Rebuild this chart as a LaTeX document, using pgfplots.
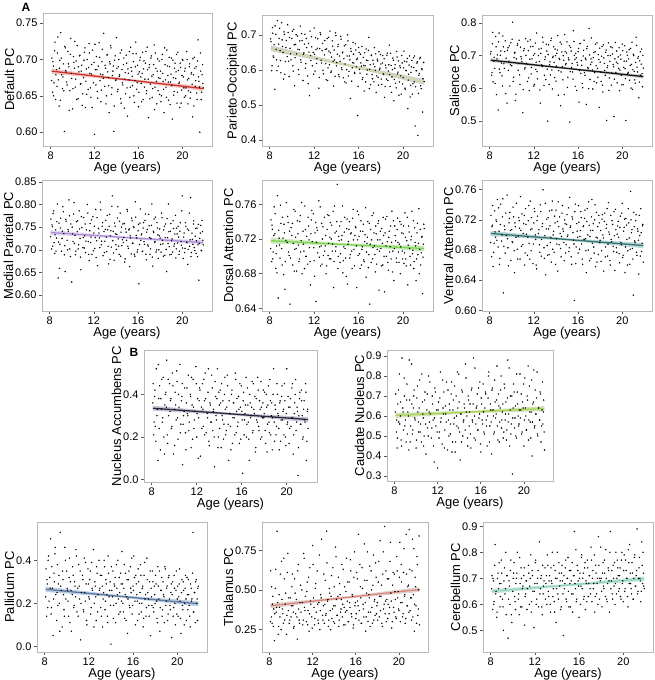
\documentclass[border=0pt]{standalone}
\usepackage{fontspec}
\setmainfont{Liberation Sans}
\usepackage{pgfplots}
\pgfplotsset{compat=1.18}
\usepackage{pgfplotstable}

\definecolor{l1}{RGB}{205,48,38}   \definecolor{b1}{RGB}{242,190,190}
\definecolor{l2}{RGB}{212,214,165} \definecolor{b2}{RGB}{200,202,190}
\definecolor{l3}{RGB}{20,20,20}    \definecolor{b3}{RGB}{200,200,200}
\definecolor{l4}{RGB}{178,142,218} \definecolor{b4}{RGB}{218,205,236}
\definecolor{l5}{RGB}{122,214,80}  \definecolor{b5}{RGB}{192,230,172}
\definecolor{l6}{RGB}{58,112,112}  \definecolor{b6}{RGB}{172,212,212}
\definecolor{l7}{RGB}{45,36,62}    \definecolor{b7}{RGB}{192,188,208}
\definecolor{l8}{RGB}{168,214,78}  \definecolor{b8}{RGB}{202,220,172}
\definecolor{l9}{RGB}{95,122,162}  \definecolor{b9}{RGB}{178,198,222}
\definecolor{l10}{RGB}{226,132,122} \definecolor{b10}{RGB}{215,205,200}
\definecolor{l11}{RGB}{140,212,195} \definecolor{b11}{RGB}{192,226,216}

\pgfplotstableread{
x y1 y2 y3 y4 y5 y6 y7 y8 y9 y10 y11
8.12 0.702 0.681 0.712 0.768 0.742 0.726 0.45 0.71 0.36 0.62 0.71
8.18 0.655 0.598 0.640 0.702 0.694 0.671 0.21 0.52 0.14 0.33 0.58
8.25 0.691 0.721 0.736 0.751 0.731 0.713 0.39 0.44 0.29 0.29 0.69
8.31 0.668 0.640 0.620 0.780 0.705 0.658 0.25 0.66 0.40 0.46 0.61
8.40 0.724 0.672 0.695 0.716 0.757 0.689 0.52 0.57 0.21 0.38 0.83
8.46 0.645 0.545 0.661 0.692 0.726 0.732 0.30 0.81 0.32 0.18 0.64
8.55 0.686 0.702 0.758 0.744 0.686 0.697 0.09 0.60 0.50 0.51 0.55
8.62 0.709 0.629 0.581 0.726 0.712 0.718 0.38 0.48 0.18 0.36 0.70
8.70 0.672 0.741 0.702 0.801 0.770 0.747 0.44 0.89 0.27 0.87 0.66
8.77 0.636 0.611 0.534 0.638 0.652 0.684 0.14 0.64 0.05 0.42 0.76
8.85 0.699 0.690 0.769 0.759 0.721 0.705 0.33 0.53 0.34 0.27 0.59
8.93 0.737 0.655 0.648 0.712 0.698 0.669 0.27 0.70 0.43 0.39 0.68
9.01 0.679 0.592 0.714 0.770 0.738 0.741 0.48 0.58 0.24 0.60 0.72
9.08 0.660 0.735 0.677 0.697 0.709 0.692 0.20 0.47 0.12 0.25 0.62
9.16 0.694 0.667 0.607 0.741 0.745 0.724 0.35 0.76 0.38 0.44 0.50
9.25 0.601 0.574 0.727 0.784 0.679 0.623 0.41 0.62 0.29 0.35 0.74
9.33 0.716 0.702 0.661 0.689 0.727 0.712 0.56 0.43 0.20 0.70 0.66
9.41 0.683 0.624 0.745 0.652 0.694 0.676 0.17 0.68 0.53 0.31 0.56
9.50 0.665 0.684 0.692 0.763 0.762 0.699 0.30 0.55 0.26 0.48 0.71
9.58 0.711 0.638 0.555 0.721 0.716 0.753 0.45 0.86 0.09 0.22 0.47
9.66 0.690 0.707 0.724 0.745 0.739 0.683 0.37 0.51 0.31 0.61 0.69
9.75 0.657 0.581 0.683 0.810 0.701 0.716 0.24 0.64 0.17 0.37 0.60
9.83 0.729 0.662 0.607 0.702 0.645 0.730 0.50 0.73 0.46 0.29 0.77
9.92 0.674 0.629 0.739 0.757 0.733 0.666 0.12 0.58 0.22 0.45 0.53
10.00 0.632 0.690 0.669 0.629 0.724 0.707 0.33 0.44 0.35 0.33 0.65
10.08 0.704 0.612 0.802 0.735 0.690 0.690 0.41 0.69 0.26 0.52 0.72
10.17 0.688 0.716 0.634 0.779 0.754 0.724 0.28 0.62 0.14 0.40 0.63
10.25 0.662 0.555 0.708 0.714 0.708 0.650 0.46 0.52 0.41 0.26 0.58
10.33 0.698 0.673 0.563 0.689 0.722 0.711 0.19 0.78 0.30 0.57 0.70
10.42 0.719 0.646 0.690 0.762 0.683 0.742 0.34 0.56 0.07 0.35 0.80
10.50 0.646 0.697 0.731 0.740 0.741 0.681 0.54 0.47 0.24 0.44 0.62
10.58 0.683 0.601 0.655 0.702 0.713 0.698 0.26 0.67 0.33 0.19 0.56
10.67 0.706 0.658 0.747 0.786 0.697 0.719 0.39 0.59 0.19 0.66 0.68
10.75 0.667 0.725 0.612 0.725 0.747 0.668 0.07 0.50 0.28 0.31 0.74
10.83 0.692 0.622 0.697 0.656 0.718 0.706 0.30 0.72 0.45 0.42 0.59
10.92 0.653 0.684 0.681 0.749 0.680 0.728 0.43 0.41 0.16 0.36 0.67
11.00 0.675 0.570 0.526 0.705 0.729 0.687 0.22 0.63 0.27 0.50 0.71
11.08 0.710 0.649 0.715 0.771 0.706 0.715 0.36 0.54 0.38 0.28 0.52
11.17 0.634 0.702 0.659 0.731 0.758 0.660 0.31 0.80 0.22 0.73 0.64
11.25 0.687 0.618 0.752 0.694 0.700 0.735 0.49 0.57 0.03 0.39 0.69
11.33 0.700 0.664 0.676 0.744 0.723 0.701 0.27 0.61 0.25 0.46 0.66
11.42 0.659 0.583 0.621 0.800 0.691 0.673 0.40 0.49 0.33 0.30 0.75
11.50 0.722 0.676 0.715 0.718 0.735 0.719 0.15 0.70 0.17 0.55 0.60
11.58 0.681 0.527 0.593 0.676 0.710 0.689 0.35 0.58 0.41 0.37 0.70
11.67 0.648 0.641 0.748 0.758 0.667 0.745 0.47 0.37 0.21 0.24 0.57
11.75 0.693 0.695 0.644 0.728 0.742 0.679 0.24 0.74 0.29 0.64 0.73
11.83 0.713 0.612 0.690 0.690 0.717 0.708 0.32 0.55 0.10 0.41 0.65
11.92 0.668 0.650 0.728 0.773 0.749 0.662 0.53 0.63 0.36 0.33 0.51
12.00 0.597 0.720 0.607 0.737 0.695 0.716 0.20 0.34 0.23 0.78 0.68
12.08 0.686 0.597 0.706 0.703 0.727 0.731 0.38 0.67 0.31 0.45 0.77
12.17 0.704 0.658 0.658 0.789 0.648 0.694 0.29 0.52 0.15 0.28 0.62
12.25 0.656 0.632 0.769 0.720 0.733 0.655 0.43 0.82 0.39 0.51 0.70
12.33 0.691 0.689 0.629 0.665 0.704 0.725 0.11 0.59 0.26 0.36 0.59
12.42 0.723 0.548 0.700 0.747 0.764 0.702 0.34 0.46 0.45 0.62 0.84
12.50 0.671 0.661 0.682 0.726 0.711 0.687 0.45 0.64 0.20 0.31 0.66
12.58 0.642 0.701 0.555 0.805 0.689 0.740 0.25 0.72 0.28 0.42 0.71
12.67 0.697 0.620 0.722 0.711 0.738 0.672 0.37 0.53 0.12 0.25 0.56
12.75 0.679 0.676 0.666 0.752 0.720 0.711 0.50 0.61 0.34 0.47 0.64
12.83 0.736 0.589 0.741 0.687 0.701 0.760 0.22 0.77 0.24 0.82 0.69
12.92 0.663 0.643 0.609 0.740 0.745 0.683 0.31 0.43 0.40 0.34 0.74
13.00 0.688 0.659 0.688 0.719 0.712 0.699 0.41 0.58 0.27 0.40 0.68
13.08 0.650 0.572 0.627 0.765 0.680 0.647 0.18 0.66 0.18 0.29 0.60
13.17 0.707 0.690 0.714 0.696 0.731 0.721 0.36 0.51 0.33 0.56 0.75
13.25 0.675 0.606 0.500 0.744 0.701 0.673 0.27 0.71 0.09 0.35 0.63
13.33 0.627 0.654 0.733 0.669 0.747 0.708 0.49 0.42 0.25 0.67 0.71
13.42 0.694 0.711 0.672 0.778 0.722 0.732 0.23 0.63 0.37 0.44 0.57
13.50 0.716 0.593 0.641 0.731 0.697 0.690 0.33 0.56 0.21 0.31 0.69
13.58 0.661 0.637 0.753 0.706 0.736 0.664 0.06 0.75 0.29 0.48 0.80
13.67 0.684 0.668 0.598 0.819 0.714 0.745 0.39 0.47 0.14 0.25 0.66
13.75 0.601 0.554 0.698 0.741 0.664 0.700 0.28 0.60 0.42 0.59 0.61
13.83 0.699 0.629 0.679 0.677 0.758 0.677 0.52 0.82 0.23 0.38 0.73
13.92 0.671 0.706 0.720 0.752 0.706 0.716 0.20 0.54 0.30 0.30 0.53
14.00 0.730 0.612 0.622 0.711 0.729 0.733 0.35 0.67 0.01 0.52 0.70
14.08 0.656 0.645 0.707 0.734 0.783 0.688 0.42 0.38 0.26 0.40 0.64
14.17 0.690 0.673 0.761 0.795 0.700 0.652 0.15 0.61 0.35 0.71 0.76
14.25 0.677 0.581 0.654 0.708 0.718 0.711 0.30 0.73 0.19 0.34 0.67
14.33 0.709 0.625 0.688 0.763 0.693 0.724 0.37 0.50 0.28 0.46 0.58
14.42 0.640 0.688 0.547 0.686 0.740 0.682 0.26 0.58 0.11 0.27 0.72
14.50 0.686 0.601 0.735 0.750 0.724 0.698 0.48 0.64 0.38 0.54 0.69
14.58 0.665 0.651 0.666 0.722 0.681 0.739 0.21 0.86 0.24 0.36 0.48
14.67 0.702 0.632 0.700 0.716 0.711 0.705 0.34 0.62 0.22 0.44 0.66
14.75 0.673 0.566 0.581 0.758 0.745 0.666 0.44 0.49 0.32 0.33 0.74
14.83 0.653 0.672 0.712 0.680 0.698 0.715 0.09 0.70 0.16 0.63 0.62
14.92 0.695 0.601 0.676 0.739 0.732 0.687 0.31 0.55 0.29 0.39 0.70
15.00 0.622 0.700 0.742 0.789 0.668 0.727 0.25 0.66 0.44 0.28 0.78
15.08 0.681 0.583 0.634 0.708 0.717 0.700 0.40 0.44 0.20 0.49 0.59
15.17 0.711 0.640 0.687 0.744 0.740 0.678 0.17 0.74 0.27 0.37 0.68
15.25 0.662 0.519 0.497 0.663 0.702 0.750 0.36 0.57 0.13 0.55 0.73
15.33 0.689 0.653 0.725 0.726 0.727 0.712 0.29 0.89 0.34 0.30 0.64
15.42 0.677 0.606 0.664 0.770 0.686 0.661 0.50 0.60 0.23 0.42 0.57
15.50 0.708 0.679 0.650 0.715 0.754 0.721 0.22 0.48 0.06 0.69 0.71
15.58 0.650 0.620 0.776 0.751 0.708 0.693 0.38 0.64 0.31 0.35 0.88
15.67 0.671 0.590 0.701 0.690 0.724 0.613 0.27 0.71 0.19 0.47 0.66
15.75 0.724 0.657 0.606 0.806 0.733 0.741 0.33 0.53 0.37 0.26 0.61
15.83 0.659 0.630 0.693 0.732 0.664 0.684 0.45 0.59 0.25 0.58 0.75
15.92 0.692 0.470 0.679 0.695 0.719 0.705 0.19 0.77 0.15 0.40 0.69
16.00 0.635 0.664 0.712 0.742 0.748 0.676 0.32 0.42 0.28 0.32 0.55
16.08 0.683 0.602 0.558 0.625 0.703 0.717 0.03 0.66 0.42 0.61 0.72
16.17 0.703 0.645 0.737 0.759 0.729 0.698 0.41 0.56 0.21 0.43 0.67
16.25 0.667 0.611 0.646 0.721 0.690 0.731 0.28 0.62 0.33 0.85 0.79
16.33 0.681 0.573 0.670 0.735 0.711 0.688 0.35 0.51 0.24 0.37 0.70
16.42 0.645 0.636 0.602 0.697 0.737 0.661 0.20 0.72 0.12 0.52 0.62
16.50 0.698 0.540 0.716 0.760 0.694 0.712 0.43 0.58 0.30 0.29 0.74
16.58 0.673 0.612 0.648 0.712 0.725 0.722 0.27 0.45 0.20 0.64 0.58
16.67 0.711 0.660 0.692 0.779 0.676 0.695 0.09 0.69 0.38 0.41 0.68
16.75 0.657 0.588 0.551 0.678 0.715 0.650 0.36 0.82 0.16 0.33 0.77
16.83 0.686 0.627 0.728 0.745 0.740 0.735 0.30 0.55 0.27 0.56 0.63
16.92 0.620 0.693 0.660 0.708 0.702 0.680 0.46 0.63 0.09 0.24 0.71
17.00 0.693 0.602 0.783 0.753 0.645 0.713 0.23 0.41 0.33 0.48 0.66
17.08 0.666 0.558 0.627 0.690 0.731 0.698 0.33 0.74 0.22 0.74 0.82
17.17 0.705 0.643 0.690 0.725 0.719 0.669 0.39 0.60 0.14 0.36 0.61
17.25 0.648 0.575 0.680 0.801 0.697 0.747 0.15 0.52 0.41 0.45 0.73
17.33 0.679 0.617 0.598 0.664 0.750 0.706 0.28 0.67 0.25 0.27 0.68
17.42 0.720 0.664 0.709 0.738 0.712 0.684 0.48 0.61 0.19 0.62 0.57
17.50 0.662 0.599 0.648 0.716 0.682 0.720 0.25 0.85 0.30 0.39 0.75
17.58 0.688 0.536 0.735 0.772 0.726 0.658 0.37 0.48 0.05 0.53 0.64
17.67 0.639 0.631 0.617 0.700 0.708 0.730 0.19 0.65 0.23 0.31 0.70
17.75 0.701 0.579 0.661 0.748 0.738 0.696 0.34 0.57 0.35 0.44 0.86
17.83 0.675 0.652 0.703 0.681 0.661 0.674 0.29 0.73 0.18 0.67 0.62
17.92 0.652 0.605 0.542 0.731 0.719 0.716 0.42 0.54 0.28 0.35 0.69
18.00 0.684 0.617 0.680 0.726 0.709 0.693 0.31 0.62 0.20 0.42 0.70
18.08 0.650 0.559 0.621 0.695 0.732 0.665 0.23 0.49 0.29 0.55 0.59
18.17 0.707 0.641 0.728 0.771 0.690 0.721 0.40 0.76 0.13 0.33 0.76
18.25 0.670 0.587 0.589 0.713 0.724 0.700 0.13 0.58 0.37 0.81 0.66
18.33 0.627 0.522 0.693 0.744 0.659 0.652 0.35 0.67 0.22 0.46 0.72
18.42 0.693 0.614 0.655 0.688 0.743 0.729 0.27 0.53 0.07 0.29 0.81
18.50 0.662 0.574 0.710 0.757 0.700 0.684 0.47 0.88 0.26 0.60 0.62
18.58 0.713 0.648 0.502 0.652 0.717 0.714 0.21 0.61 0.32 0.38 0.68
18.67 0.678 0.597 0.669 0.727 0.684 0.672 0.36 0.45 0.17 0.90 0.73
18.75 0.644 0.671 0.739 0.801 0.729 0.743 0.29 0.70 0.24 0.43 0.57
18.83 0.690 0.553 0.632 0.707 0.711 0.701 0.52 0.56 0.11 0.30 0.88
18.92 0.669 0.613 0.700 0.741 0.697 0.660 0.18 0.31 0.36 0.57 0.69
19.00 0.702 0.580 0.610 0.690 0.752 0.694 0.33 0.64 0.21 0.41 0.64
19.08 0.618 0.634 0.724 0.724 0.706 0.719 0.25 0.72 0.28 0.35 0.75
19.17 0.675 0.512 0.673 0.764 0.672 0.685 0.40 0.59 0.15 0.68 0.67
19.25 0.656 0.605 0.514 0.708 0.735 0.731 0.30 0.50 0.33 0.48 0.60
19.33 0.695 0.562 0.690 0.735 0.718 0.653 0.14 0.81 0.19 0.26 0.80
19.42 0.683 0.653 0.649 0.682 0.693 0.707 0.37 0.66 0.25 0.53 0.70
19.50 0.640 0.589 0.714 0.748 0.744 0.677 0.28 0.55 0.04 0.39 0.74
19.58 0.710 0.626 0.676 0.715 0.705 0.712 0.44 0.63 0.30 0.60 0.65
19.67 0.667 0.566 0.661 0.728 0.714 0.697 0.32 0.59 0.18 0.44 0.71
19.75 0.634 0.607 0.593 0.697 0.680 0.663 0.21 0.71 0.27 0.32 0.63
19.83 0.689 0.531 0.702 0.760 0.737 0.725 0.37 0.52 0.10 0.62 0.77
19.92 0.658 0.620 0.640 0.710 0.706 0.687 0.16 0.64 0.35 0.49 0.68
20.00 0.700 0.578 0.735 0.819 0.726 0.742 0.52 0.45 0.22 0.37 0.61
20.08 0.676 0.654 0.611 0.681 0.692 0.673 0.27 0.79 0.14 0.80 0.79
20.17 0.648 0.548 0.683 0.737 0.750 0.710 0.34 0.60 0.29 0.42 0.66
20.25 0.688 0.599 0.660 0.703 0.697 0.650 0.24 0.53 0.21 0.55 0.73
20.33 0.661 0.623 0.502 0.752 0.718 0.722 0.38 0.68 0.06 0.33 0.70
20.42 0.700 0.490 0.711 0.716 0.667 0.694 0.29 0.48 0.31 0.61 0.59
20.50 0.639 0.588 0.645 0.668 0.735 0.679 0.45 0.75 0.17 0.46 0.76
20.58 0.674 0.640 0.690 0.743 0.709 0.716 0.12 0.57 0.26 0.29 0.83
20.67 0.694 0.556 0.625 0.708 0.690 0.661 0.31 0.62 0.20 0.85 0.68
20.75 0.655 0.609 0.722 0.815 0.723 0.758 0.40 0.40 0.33 0.40 0.64
20.83 0.682 0.531 0.673 0.694 0.703 0.703 0.23 0.66 0.12 0.52 0.72
20.92 0.621 0.635 0.597 0.723 0.741 0.682 0.34 0.83 0.24 0.36 0.62
21.00 0.679 0.566 0.704 0.757 0.694 0.620 0.02 0.55 0.31 0.63 0.78
21.08 0.703 0.440 0.652 0.705 0.716 0.711 0.30 0.61 0.19 0.45 0.67
21.17 0.663 0.598 0.616 0.730 0.672 0.690 0.41 0.69 0.09 0.31 0.71
21.25 0.690 0.620 0.756 0.692 0.727 0.727 0.26 0.51 0.27 0.82 0.89
21.33 0.645 0.413 0.665 0.748 0.702 0.673 0.37 0.64 0.22 0.47 0.65
21.42 0.727 0.585 0.692 0.711 0.755 0.705 0.19 0.58 0.53 0.24 0.74
21.50 0.670 0.632 0.571 0.633 0.708 0.648 0.33 0.72 0.16 0.58 0.70
21.58 0.600 0.555 0.684 0.725 0.690 0.699 0.28 0.47 0.25 0.40 0.61
21.67 0.684 0.604 0.640 0.754 0.722 0.735 0.45 0.63 0.30 0.71 0.84
21.75 0.655 0.480 0.720 0.698 0.657 0.678 0.09 0.56 0.20 0.34 0.68
21.83 0.693 0.622 0.605 0.740 0.714 0.712 0.32 0.68 0.12 0.50 0.72
21.90 0.661 0.567 0.662 0.711 0.732 0.664 0.24 0.43 0.28 0.28 0.66
8.09 0.671 0.689 0.705 0.729 0.709 0.690 0.36 0.62 0.23 0.30 0.66
8.21 0.697 0.612 0.648 0.755 0.736 0.711 0.27 0.58 0.31 0.52 0.70
8.28 0.650 0.705 0.771 0.708 0.697 0.739 0.42 0.49 0.18 0.41 0.60
8.37 0.712 0.636 0.683 0.786 0.724 0.677 0.18 0.73 0.42 0.27 0.75
8.49 0.679 0.726 0.615 0.733 0.749 0.704 0.33 0.56 0.27 0.35 0.65
8.58 0.663 0.659 0.727 0.697 0.703 0.720 0.54 0.67 0.15 0.63 0.57
8.66 0.731 0.598 0.690 0.762 0.681 0.693 0.24 0.45 0.37 0.39 0.72
8.81 0.688 0.674 0.742 0.717 0.730 0.736 0.38 0.62 0.22 0.22 0.68
8.89 0.644 0.719 0.659 0.659 0.713 0.661 0.47 0.79 0.30 0.47 0.63
8.97 0.702 0.627 0.701 0.748 0.759 0.714 0.29 0.55 0.46 0.33 0.77
9.12 0.676 0.686 0.638 0.725 0.690 0.700 0.12 0.68 0.25 0.68 0.59
9.20 0.657 0.650 0.760 0.795 0.721 0.748 0.40 0.51 0.19 0.38 0.69
9.29 0.718 0.709 0.675 0.736 0.737 0.685 0.34 0.60 0.33 0.29 0.64
9.37 0.685 0.588 0.712 0.709 0.662 0.707 0.21 0.88 0.07 0.57 0.80
9.46 0.669 0.664 0.584 0.767 0.718 0.729 0.47 0.47 0.28 0.41 0.71
9.62 0.694 0.729 0.716 0.700 0.746 0.695 0.32 0.66 0.35 0.34 0.62
9.70 0.630 0.625 0.655 0.741 0.705 0.659 0.38 0.53 0.24 0.73 0.67
9.79 0.707 0.693 0.730 0.775 0.729 0.722 0.25 0.70 0.14 0.45 0.73
9.88 0.681 0.646 0.672 0.685 0.698 0.706 0.44 0.59 0.40 0.31 0.56
10.04 0.660 0.711 0.750 0.750 0.738 0.691 0.16 0.48 0.27 0.40 0.70
10.12 0.696 0.597 0.621 0.718 0.715 0.737 0.35 0.75 0.21 0.60 0.76
10.21 0.725 0.672 0.694 0.804 0.683 0.679 0.51 0.57 0.32 0.36 0.61
10.29 0.673 0.635 0.710 0.732 0.752 0.716 0.29 0.64 0.11 0.27 0.68
10.38 0.645 0.701 0.582 0.697 0.709 0.697 0.40 0.52 0.26 0.48 0.72
10.54 0.690 0.659 0.736 0.764 0.726 0.668 0.22 0.81 0.37 0.33 0.64
10.63 0.705 0.587 0.676 0.711 0.694 0.723 0.37 0.61 0.18 0.62 0.78
10.71 0.666 0.683 0.641 0.746 0.740 0.709 0.45 0.45 0.30 0.38 0.59
10.79 0.684 0.629 0.726 0.684 0.705 0.751 0.26 0.68 0.23 0.29 0.70
10.88 0.637 0.704 0.690 0.773 0.762 0.685 0.32 0.56 0.42 0.53 0.66
11.04 0.699 0.645 0.596 0.727 0.714 0.702 0.14 0.71 0.14 0.42 0.74
11.13 0.716 0.674 0.721 0.704 0.686 0.726 0.43 0.50 0.28 0.31 0.63
11.21 0.670 0.605 0.663 0.757 0.731 0.676 0.30 0.62 0.35 0.70 0.69
11.29 0.652 0.690 0.701 0.719 0.700 0.714 0.23 0.77 0.20 0.37 0.58
11.46 0.689 0.561 0.744 0.781 0.745 0.697 0.39 0.54 0.31 0.49 0.72
11.54 0.709 0.651 0.632 0.690 0.719 0.739 0.48 0.66 0.16 0.28 0.67
11.63 0.661 0.711 0.689 0.742 0.694 0.668 0.19 0.45 0.25 0.58 0.79
11.71 0.680 0.627 0.727 0.716 0.726 0.707 0.34 0.59 0.39 0.35 0.61
11.79 0.634 0.666 0.664 0.766 0.753 0.723 0.28 0.72 0.12 0.43 0.71
11.96 0.696 0.588 0.701 0.698 0.710 0.688 0.45 0.52 0.29 0.26 0.65
12.04 0.721 0.645 0.612 0.752 0.677 0.735 0.31 0.63 0.22 0.66 0.76
12.13 0.665 0.692 0.738 0.727 0.739 0.700 0.10 0.49 0.35 0.39 0.60
12.21 0.686 0.619 0.680 0.683 0.716 0.660 0.37 0.69 0.18 0.32 0.68
12.29 0.647 0.662 0.651 0.771 0.730 0.719 0.42 0.57 0.27 0.54 0.73
12.46 0.703 0.579 0.720 0.737 0.699 0.707 0.24 0.78 0.09 0.41 0.64
12.54 0.680 0.706 0.595 0.705 0.757 0.677 0.33 0.61 0.30 0.29 0.70
12.63 0.658 0.628 0.707 0.788 0.712 0.731 0.47 0.44 0.23 0.72 0.59
12.71 0.714 0.655 0.672 0.719 0.691 0.694 0.21 0.65 0.37 0.37 0.75
12.79 0.674 0.599 0.756 0.760 0.734 0.715 0.38 0.57 0.16 0.45 0.67
12.96 0.692 0.684 0.640 0.694 0.706 0.669 0.29 0.73 0.26 0.31 0.62
13.04 0.639 0.618 0.696 0.745 0.724 0.742 0.52 0.50 0.33 0.60 0.71
13.13 0.706 0.660 0.735 0.728 0.689 0.708 0.16 0.63 0.14 0.41 0.79
13.21 0.683 0.570 0.659 0.776 0.748 0.686 0.35 0.56 0.28 0.34 0.65
13.29 0.664 0.693 0.703 0.708 0.715 0.723 0.27 0.77 0.22 0.87 0.69
13.38 0.697 0.615 0.612 0.752 0.697 0.674 0.43 0.47 0.40 0.43 0.60
13.46 0.719 0.649 0.681 0.679 0.739 0.712 0.32 0.68 0.17 0.27 0.74
13.54 0.652 0.597 0.746 0.742 0.720 0.697 0.20 0.59 0.31 0.51 0.68
13.63 0.678 0.683 0.656 0.796 0.706 0.733 0.46 0.42 0.24 0.37 0.63
13.71 0.691 0.625 0.694 0.720 0.752 0.681 0.30 0.70 0.11 0.46 0.75
13.79 0.636 0.657 0.727 0.693 0.694 0.705 0.38 0.55 0.34 0.32 0.57
13.88 0.705 0.582 0.633 0.759 0.727 0.725 0.15 0.64 0.26 0.64 0.70
13.96 0.672 0.698 0.700 0.735 0.711 0.661 0.41 0.81 0.19 0.40 0.66
14.04 0.688 0.621 0.668 0.701 0.740 0.695 0.24 0.52 0.37 0.29 0.80
14.13 0.659 0.667 0.717 0.770 0.686 0.718 0.36 0.61 0.23 0.77 0.62
14.21 0.700 0.587 0.579 0.724 0.723 0.744 0.45 0.47 0.13 0.44 0.72
14.29 0.679 0.640 0.692 0.690 0.735 0.687 0.28 0.72 0.29 0.34 0.69
14.38 0.646 0.696 0.741 0.781 0.703 0.702 0.19 0.57 0.32 0.58 0.59
14.46 0.713 0.606 0.650 0.739 0.719 0.671 0.40 0.66 0.20 0.31 0.75
14.54 0.668 0.649 0.711 0.709 0.758 0.729 0.33 0.53 0.27 0.47 0.64
14.63 0.693 0.578 0.626 0.757 0.695 0.708 0.23 0.79 0.40 0.38 0.71
14.71 0.633 0.669 0.686 0.727 0.728 0.690 0.49 0.60 0.15 0.66 0.68
14.79 0.682 0.617 0.764 0.673 0.709 0.720 0.26 0.45 0.25 0.41 0.77
14.88 0.706 0.563 0.672 0.746 0.677 0.676 0.37 0.68 0.34 0.28 0.61
14.96 0.661 0.640 0.708 0.721 0.743 0.714 0.31 0.62 0.21 0.52 0.70
15.04 0.687 0.683 0.603 0.785 0.714 0.698 0.14 0.51 0.29 0.36 0.65
15.13 0.672 0.596 0.693 0.703 0.731 0.736 0.42 0.73 0.16 0.70 0.73
15.21 0.648 0.629 0.730 0.746 0.698 0.683 0.29 0.58 0.38 0.43 0.59
15.29 0.717 0.661 0.651 0.731 0.726 0.710 0.36 0.66 0.24 0.30 0.69
15.38 0.684 0.568 0.714 0.691 0.706 0.671 0.21 0.49 0.12 0.55 0.76
15.46 0.664 0.621 0.676 0.764 0.744 0.724 0.47 0.84 0.31 0.39 0.64
15.54 0.697 0.645 0.628 0.714 0.719 0.703 0.32 0.56 0.22 0.62 0.71
15.63 0.641 0.593 0.743 0.749 0.689 0.688 0.25 0.65 0.35 0.33 0.68
15.71 0.690 0.675 0.688 0.686 0.734 0.731 0.39 0.53 0.18 0.46 0.81
15.79 0.708 0.609 0.707 0.772 0.712 0.662 0.17 0.74 0.27 0.28 0.62
15.88 0.668 0.634 0.594 0.726 0.752 0.715 0.34 0.61 0.41 0.74 0.73
15.96 0.680 0.553 0.671 0.700 0.701 0.697 0.44 0.46 0.19 0.42 0.67
16.04 0.655 0.650 0.722 0.756 0.723 0.739 0.28 0.69 0.26 0.35 0.70
16.13 0.699 0.591 0.654 0.712 0.686 0.681 0.37 0.58 0.32 0.57 0.60
16.21 0.676 0.620 0.737 0.790 0.741 0.706 0.21 0.76 0.10 0.40 0.78
16.29 0.642 0.667 0.685 0.733 0.708 0.723 0.31 0.52 0.29 0.31 0.66
16.38 0.710 0.578 0.615 0.696 0.729 0.668 0.48 0.64 0.21 0.66 0.72
16.46 0.687 0.613 0.699 0.748 0.696 0.711 0.26 0.71 0.36 0.45 0.63
16.54 0.662 0.649 0.747 0.718 0.717 0.694 0.35 0.55 0.15 0.29 0.76
16.63 0.695 0.566 0.640 0.765 0.756 0.733 0.19 0.60 0.25 0.51 0.69
16.71 0.653 0.628 0.687 0.690 0.705 0.679 0.40 0.80 0.33 0.38 0.61
16.79 0.717 0.600 0.721 0.739 0.722 0.718 0.29 0.47 0.20 0.79 0.74
16.88 0.673 0.656 0.664 0.711 0.687 0.700 0.34 0.66 0.28 0.42 0.68
16.96 0.689 0.547 0.599 0.778 0.738 0.744 0.22 0.57 0.13 0.33 0.71
17.04 0.646 0.615 0.702 0.727 0.714 0.666 0.45 0.73 0.39 0.56 0.64
17.13 0.702 0.641 0.673 0.702 0.693 0.706 0.31 0.63 0.24 0.30 0.77
17.21 0.677 0.587 0.754 0.754 0.747 0.724 0.13 0.51 0.18 0.47 0.70
17.29 0.660 0.628 0.656 0.684 0.710 0.689 0.38 0.78 0.31 0.65 0.66
17.38 0.693 0.566 0.694 0.741 0.727 0.715 0.27 0.59 0.22 0.36 0.79
17.46 0.631 0.609 0.621 0.768 0.702 0.676 0.42 0.68 0.14 0.50 0.63
17.54 0.709 0.646 0.712 0.718 0.735 0.740 0.23 0.55 0.35 0.29 0.72
17.63 0.670 0.583 0.669 0.695 0.691 0.697 0.33 0.71 0.27 0.72 0.68
17.71 0.684 0.626 0.739 0.760 0.719 0.664 0.46 0.47 0.19 0.43 0.60
17.79 0.657 0.557 0.634 0.733 0.741 0.711 0.20 0.64 0.30 0.34 0.75
17.88 0.698 0.601 0.688 0.700 0.706 0.726 0.36 0.80 0.16 0.58 0.70
17.96 0.674 0.644 0.723 0.746 0.729 0.690 0.29 0.58 0.24 0.40 0.82
18.04 0.642 0.574 0.650 0.712 0.689 0.706 0.41 0.66 0.33 0.31 0.65
18.13 0.700 0.620 0.698 0.781 0.715 0.679 0.17 0.52 0.21 0.68 0.72
18.21 0.681 0.589 0.610 0.721 0.745 0.727 0.34 0.74 0.11 0.46 0.67
18.29 0.659 0.632 0.733 0.686 0.700 0.696 0.26 0.61 0.28 0.37 0.77
18.38 0.716 0.553 0.676 0.752 0.727 0.718 0.44 0.48 0.35 0.53 0.63
18.46 0.672 0.606 0.640 0.727 0.712 0.671 0.22 0.69 0.18 0.27 0.70
18.54 0.648 0.642 0.717 0.701 0.746 0.709 0.37 0.57 0.26 0.74 0.61
18.63 0.691 0.570 0.663 0.769 0.693 0.735 0.30 0.84 0.14 0.41 0.74
18.71 0.669 0.615 0.700 0.714 0.722 0.688 0.14 0.63 0.30 0.35 0.69
18.79 0.703 0.587 0.594 0.740 0.705 0.704 0.40 0.51 0.23 0.62 0.80
18.88 0.638 0.648 0.683 0.689 0.735 0.666 0.27 0.70 0.37 0.44 0.66
18.96 0.680 0.536 0.727 0.758 0.716 0.726 0.35 0.59 0.19 0.32 0.73
19.04 0.664 0.601 0.647 0.720 0.682 0.691 0.21 0.76 0.27 0.57 0.62
19.13 0.699 0.628 0.705 0.695 0.741 0.714 0.45 0.54 0.12 0.39 0.70
19.21 0.651 0.573 0.666 0.747 0.709 0.678 0.31 0.65 0.32 0.80 0.76
19.29 0.688 0.615 0.628 0.713 0.724 0.699 0.24 0.49 0.22 0.43 0.68
19.38 0.674 0.549 0.740 0.776 0.698 0.734 0.36 0.72 0.17 0.30 0.64
19.46 0.707 0.637 0.680 0.702 0.731 0.683 0.18 0.60 0.29 0.61 0.77
19.54 0.655 0.594 0.617 0.735 0.716 0.701 0.39 0.56 0.24 0.36 0.71
19.63 0.685 0.528 0.696 0.752 0.693 0.718 0.28 0.81 0.14 0.49 0.66
19.71 0.669 0.612 0.724 0.690 0.740 0.675 0.33 0.63 0.33 0.33 0.74
19.79 0.695 0.583 0.656 0.741 0.711 0.710 0.45 0.51 0.20 0.71 0.62
19.88 0.640 0.641 0.689 0.718 0.727 0.690 0.20 0.67 0.26 0.45 0.80
19.96 0.678 0.560 0.611 0.786 0.697 0.729 0.31 0.76 0.15 0.38 0.69
20.04 0.699 0.606 0.715 0.704 0.735 0.670 0.26 0.58 0.28 0.58 0.73
20.13 0.661 0.625 0.664 0.728 0.704 0.705 0.39 0.64 0.23 0.30 0.65
20.21 0.684 0.545 0.730 0.694 0.722 0.721 0.17 0.53 0.36 0.66 0.77
20.29 0.650 0.598 0.630 0.760 0.689 0.684 0.34 0.70 0.13 0.42 0.70
20.38 0.711 0.633 0.683 0.717 0.745 0.713 0.25 0.85 0.25 0.35 0.63
20.46 0.672 0.571 0.701 0.746 0.713 0.660 0.43 0.58 0.19 0.76 0.81
20.54 0.657 0.614 0.649 0.701 0.728 0.735 0.29 0.62 0.30 0.47 0.68
20.63 0.690 0.523 0.718 0.781 0.700 0.696 0.21 0.49 0.10 0.32 0.72
20.71 0.647 0.593 0.670 0.722 0.719 0.681 0.36 0.78 0.27 0.60 0.66
20.79 0.680 0.627 0.601 0.685 0.752 0.720 0.47 0.57 0.22 0.40 0.76
20.88 0.666 0.561 0.741 0.737 0.707 0.707 0.27 0.67 0.32 0.53 0.62
20.96 0.701 0.607 0.657 0.712 0.686 0.668 0.32 0.54 0.17 0.88 0.70
21.04 0.636 0.640 0.700 0.764 0.733 0.730 0.15 0.73 0.24 0.37 0.79
21.13 0.688 0.552 0.626 0.698 0.712 0.692 0.38 0.61 0.14 0.45 0.67
21.21 0.671 0.598 0.679 0.747 0.697 0.719 0.26 0.82 0.29 0.62 0.73
21.29 0.654 0.624 0.731 0.720 0.738 0.677 0.42 0.50 0.21 0.33 0.64
21.38 0.698 0.533 0.650 0.685 0.715 0.708 0.30 0.64 0.34 0.76 0.70
21.46 0.676 0.590 0.697 0.756 0.680 0.693 0.20 0.58 0.16 0.41 0.78
21.54 0.662 0.636 0.619 0.714 0.731 0.726 0.37 0.71 0.25 0.52 0.69
21.63 0.709 0.547 0.712 0.737 0.704 0.672 0.27 0.55 0.11 0.29 0.65
21.71 0.645 0.601 0.674 0.699 0.723 0.703 0.41 0.77 0.31 0.66 0.75
21.79 0.679 0.575 0.645 0.765 0.699 0.689 0.18 0.62 0.22 0.38 0.80
21.86 0.667 0.621 0.701 0.721 0.737 0.714 0.33 0.52 0.27 0.84 0.67
}\data

\pgfplotsset{
  panel/.style={
    scale only axis,
    anchor=north west,
    axis line style={draw=black!28, line width=0.9pt},
    tick align=outside,
    major tick length=3pt,
    tick style={black!65, line width=0.6pt},
    tick pos=left,
    xmin=7.31, xmax=22.69,
    xtick={8,12,16,20}, xticklabels={8,12,16,20},
    xlabel={Age (years)},
    ticklabel style={font=\fontsize{11}{12}\selectfont, text=black},
    label style={font=\fontsize{13}{15}\selectfont, text=black},
    xlabel style={yshift=4pt},
    ylabel style={yshift=-5pt},
    xticklabel style={yshift=1pt},
    yticklabel style={xshift=1pt},
  },
  pts/.style={only marks, mark=*, mark size=0.5pt, mark options={draw=none, fill=black!55}},
  fit/.style={no marks, line width=1.3pt},
  band/.style={draw=none, fill opacity=0.85},
}

\begin{document}
\begin{tikzpicture}
\useasboundingbox (0pt,0pt) rectangle (655pt,-680pt);

% 1 Default
\begin{axis}[panel, at={(43pt,-13pt)}, width=169pt, height=133pt,
  ymin=0.581, ymax=0.764, ytick={0.60,0.65,0.70,0.75}, yticklabels={0.60,0.65,0.70,0.75},
  ylabel={Default PC}]
\addplot[pts] table[x=x,y=y1]{\data};
\addplot[band, fill=b1] coordinates {(8.1,0.6875)(15,0.6736)(21.9,0.6635)(21.9,0.6565)(15,0.6704)(8.1,0.6805)} -- cycle;
\addplot[fit, l1] coordinates {(8.1,0.684)(21.9,0.660)};
\end{axis}

% 2 Parieto-Occipital
\begin{axis}[panel, at={(262pt,-15pt)}, width=171pt, height=131pt,
  ymin=0.383, ymax=0.757, ytick={0.4,0.5,0.6,0.7}, yticklabels={0.4,0.5,0.6,0.7},
  ylabel={Parieto-Occipital PC}]
\addplot[pts] table[x=x,y=y2]{\data};
\addplot[band, fill=b2] coordinates {(8.1,0.670)(15,0.6176)(21.9,0.574)(21.9,0.558)(15,0.6104)(8.1,0.654)} -- cycle;
\addplot[fit, l2] coordinates {(8.1,0.662)(21.9,0.566)};
\end{axis}

% 3 Salience
\begin{axis}[panel, at={(482pt,-15pt)}, width=170pt, height=131pt,
  ymin=0.424, ymax=0.824, ytick={0.5,0.6,0.7,0.8}, yticklabels={0.5,0.6,0.7,0.8},
  ylabel={Salience PC}]
\addplot[pts] table[x=x,y=y3]{\data};
\addplot[band, fill=b3] coordinates {(8.1,0.692)(15,0.6637)(21.9,0.642)(21.9,0.630)(15,0.6583)(8.1,0.680)} -- cycle;
\addplot[fit, l3] coordinates {(8.1,0.686)(21.9,0.636)};
\end{axis}

% 4 Medial Parietal
\begin{axis}[panel, at={(42pt,-180pt)}, width=170pt, height=131pt,
  ymin=0.565, ymax=0.854, ytick={0.60,0.65,0.70,0.75,0.80,0.85}, yticklabels={0.60,0.65,0.70,0.75,0.80,0.85},
  ylabel={Medial Parietal PC}]
\addplot[pts] table[x=x,y=y4]{\data};
\addplot[band, fill=b4] coordinates {(8.1,0.743)(15,0.7293)(21.9,0.721)(21.9,0.711)(15,0.7247)(8.1,0.733)} -- cycle;
\addplot[fit, l4] coordinates {(8.1,0.738)(21.9,0.716)};
\end{axis}

% 5 Dorsal Attention
\begin{axis}[panel, at={(262pt,-180pt)}, width=171pt, height=131pt,
  ymin=0.637, ymax=0.788, ytick={0.64,0.68,0.72,0.76}, yticklabels={0.64,0.68,0.72,0.76},
  ylabel={Dorsal Attention PC}]
\addplot[pts] table[x=x,y=y5]{\data};
\addplot[band, fill=b5] coordinates {(8.1,0.7213)(15,0.7149)(21.9,0.7123)(21.9,0.7057)(15,0.7121)(8.1,0.7147)} -- cycle;
\addplot[fit, l5] coordinates {(8.1,0.718)(21.9,0.709)};
\end{axis}

% 6 Ventral Attention
\begin{axis}[panel, at={(482pt,-180pt)}, width=170pt, height=131pt,
  ymin=0.599, ymax=0.773, ytick={0.60,0.64,0.68,0.72,0.76}, yticklabels={0.60,0.64,0.68,0.72,0.76},
  ylabel={Ventral Attention PC}]
\addplot[pts] table[x=x,y=y6]{\data};
\addplot[band, fill=b6] coordinates {(8.1,0.7055)(15,0.6956)(21.9,0.6895)(21.9,0.6825)(15,0.6924)(8.1,0.6985)} -- cycle;
\addplot[fit, l6] coordinates {(8.1,0.702)(21.9,0.686)};
\end{axis}

% 7 Nucleus Accumbens
\begin{axis}[panel, at={(144pt,-350pt)}, width=173pt, height=132pt,
  ymin=-0.011, ymax=0.608, ytick={0,0.2,0.4}, yticklabels={0.0,0.2,0.4},
  ylabel={Nucleus Accumbens PC}]
\addplot[pts] table[x=x,y=y7]{\data};
\addplot[band, fill=b7] coordinates {(8.1,0.347)(15,0.314)(21.9,0.294)(21.9,0.270)(15,0.303)(8.1,0.323)} -- cycle;
\addplot[fit, l7] coordinates {(8.1,0.335)(21.9,0.282)};
\end{axis}

% 8 Caudate Nucleus
\begin{axis}[panel, at={(387pt,-350pt)}, width=166pt, height=131pt,
  ymin=0.275, ymax=0.93, ytick={0.3,0.4,0.5,0.6,0.7,0.8,0.9}, yticklabels={0.3,0.4,0.5,0.6,0.7,0.8,0.9},
  ylabel={Caudate Nucleus PC}]
\addplot[pts] table[x=x,y=y8]{\data};
\addplot[band, fill=b8] coordinates {(8.1,0.616)(15,0.626)(21.9,0.650)(21.9,0.624)(15,0.614)(8.1,0.590)} -- cycle;
\addplot[fit, l8] coordinates {(8.1,0.603)(21.9,0.637)};
\end{axis}

% 9 Pallidum
\begin{axis}[panel, at={(37pt,-522pt)}, width=170pt, height=130pt,
  ymin=-0.0265, ymax=0.578, ytick={0,0.2,0.4}, yticklabels={0.0,0.2,0.4},
  ylabel={Pallidum PC}]
\addplot[pts] table[x=x,y=y9]{\data};
\addplot[band, fill=b9] coordinates {(8.1,0.277)(15,0.237)(21.9,0.210)(21.9,0.186)(15,0.226)(8.1,0.253)} -- cycle;
\addplot[fit, l9] coordinates {(8.1,0.265)(21.9,0.198)};
\end{axis}

% 10 Thalamus
\begin{axis}[panel, at={(262pt,-522pt)}, width=166pt, height=130pt,
  ymin=0.109, ymax=0.928, ytick={0.25,0.50,0.75}, yticklabels={0.25,0.50,0.75},
  ylabel={Thalamus PC}]
\addplot[pts] table[x=x,y=y10]{\data};
\addplot[band, fill=b10] coordinates {(8.1,0.416)(15,0.459)(21.9,0.519)(21.9,0.487)(15,0.444)(8.1,0.384)} -- cycle;
\addplot[fit, l10] coordinates {(8.1,0.400)(21.9,0.503)};
\end{axis}

% 11 Cerebellum
\begin{axis}[panel, at={(483pt,-522pt)}, width=170pt, height=130pt,
  ymin=0.4166, ymax=0.9165, ytick={0.5,0.6,0.7,0.8,0.9}, yticklabels={0.5,0.6,0.7,0.8,0.9},
  ylabel={Cerebellum PC}]
\addplot[pts] table[x=x,y=y11]{\data};
\addplot[band, fill=b11] coordinates {(8.1,0.659)(15,0.678)(21.9,0.707)(21.9,0.689)(15,0.670)(8.1,0.641)} -- cycle;
\addplot[fit, l11] coordinates {(8.1,0.650)(21.9,0.698)};
\end{axis}

\node[font=\fontsize{12}{14}\selectfont\bfseries, anchor=center] at (26pt,-7pt) {A};
\node[font=\fontsize{12}{14}\selectfont\bfseries, anchor=center] at (134pt,-352pt) {B};
\end{tikzpicture}
\end{document}
